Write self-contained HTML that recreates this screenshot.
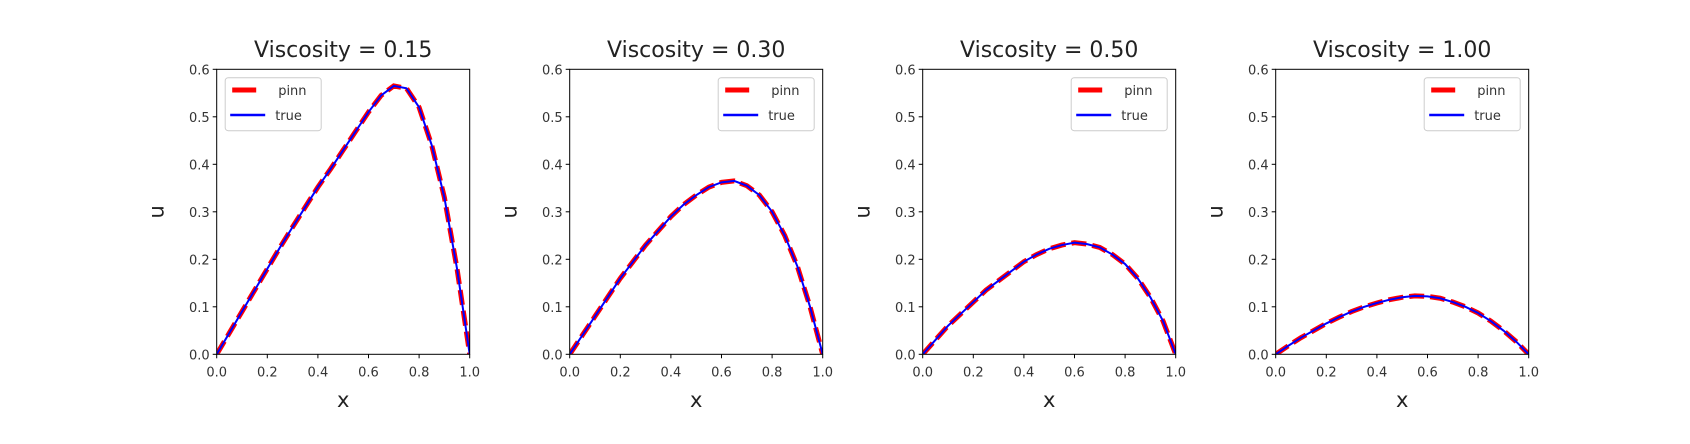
<!DOCTYPE html>
<html><head><meta charset="utf-8"><style>
body{margin:0;background:#fff;}
svg{display:block;font-family:"DejaVu Sans","Liberation Sans",sans-serif;}
</style></head><body>
<svg id="fig" width="1690" height="444" viewBox="0 0 1690 444"></svg>
<script>
const xs = [0,0.05,0.1,0.15,0.2,0.25,0.3,0.35,0.4,0.45,0.5,0.55,0.6,0.65,0.7,0.75,0.8,0.85,0.9,0.95,1];
const titles = ["Viscosity = 0.15","Viscosity = 0.30","Viscosity = 0.50","Viscosity = 1.00"];
const trueV1 = [0,.045,.09,.135,.18,.225,.268,.31,.352,.39,.43,.47,.51,.545,.565,.56,.52,.44,.33,.18,0];
const trueV2 = [0,.04,.08,.12,.16,.195,.23,.26,.29,.315,.335,.352,.362,.365,.355,.335,.3,.25,.185,.1,0];
const trueV3 = [0,.03,.06,.085,.11,.135,.155,.175,.195,.21,.222,.23,.235,.232,.225,.21,.19,.16,.12,.07,0];
const trueV4 = [0,.018,.035,.05,.065,.078,.09,.1,.108,.115,.12,.123,.122,.118,.11,.1,.087,.07,.05,.027,0];
const pinnV1 = trueV1.slice(), pinnV2 = trueV2.slice(), pinnV3 = trueV3.slice(), pinnV4 = trueV4.slice();
const xTicks = [0,0.2,0.4,0.6,0.8,1.0];
const xTickLabels = ["0.0","0.2","0.4","0.6","0.8","1.0"];
const yTicks = [0,0.1,0.2,0.3,0.4,0.5,0.6];
const yTickLabels = ["0.0","0.1","0.2","0.3","0.4","0.5","0.6"];
const trueSeries=[trueV1,trueV2,trueV3,trueV4], pinnSeries=[pinnV1,pinnV2,pinnV3,pinnV4];
const NS="http://www.w3.org/2000/svg", svg=document.getElementById('fig');
function mk(t,a,p){const e=document.createElementNS(NS,t);for(const k in a)e.setAttribute(k,a[k]);(p||svg).appendChild(e);return e;}
const W=253,H=285,TOP=69.3;
for(let i=0;i<4;i++){
  const L=216.7+353*i;
  const g=mk('g',{});
  
  
  const sx=v=>L+v*W, sy=v=>TOP+H-(v/0.6)*H;
  const cp=mk('clipPath',{id:'c'+i},g);mk('rect',{x:L,y:TOP,width:W,height:H},cp);
  const pts=(a)=>xs.map((x,j)=>sx(x).toFixed(2)+','+sy(a[j]).toFixed(2)).join(' ');
  const pl=mk('polyline',{points:pts(pinnSeries[i]),fill:'none',stroke:'#ff0000','stroke-width':5,'stroke-dasharray':'15 6','clip-path':'url(#c'+i+')'},g);
  
  
  const tl=mk('polyline',{points:pts(trueSeries[i]),fill:'none',stroke:'#0000ff','stroke-width':2,'clip-path':'url(#c'+i+')'},g);
  
  
  mk('rect',{x:L,y:TOP,width:W,height:H,fill:'none',stroke:'#000','stroke-width':1},g);
  xTicks.forEach((v,j)=>{mk('line',{x1:sx(v),x2:sx(v),y1:TOP+H,y2:TOP+H+4,stroke:'#000'},g);
    const t=mk('text',{x:sx(v),y:TOP+H+22,'text-anchor':'middle','font-size':13,fill:'#333'},g);t.textContent=xTickLabels[j];
    
    });
  yTicks.forEach((v,j)=>{mk('line',{x1:L-4,x2:L,y1:sy(v),y2:sy(v),stroke:'#000'},g);
    const t=mk('text',{x:L-7,y:sy(v)+5,'text-anchor':'end','font-size':13,fill:'#333'},g);t.textContent=yTickLabels[j];
    
    });
  const tt=mk('text',{x:L+W/2,y:57,'text-anchor':'middle','font-size':22,fill:'#222'},g);tt.textContent=titles[i];
  
  
  const xl=mk('text',{x:L+W/2,y:407,'text-anchor':'middle','font-size':21,fill:'#222'},g);xl.textContent='x';
  
  
  const yl=mk('text',{x:0,y:0,'text-anchor':'middle','font-size':21,fill:'#222',transform:'translate('+(L-53)+','+(TOP+H/2)+') rotate(-90)'},g);yl.textContent='u';
  
  
  const lx=i===0?L+8.5:L+W-104.5;
  const lg=mk('g',{},g);
  
  
  mk('rect',{x:lx,y:77.7,width:96,height:53,rx:3,fill:'#fff',stroke:'#ccc'},lg);
  mk('line',{x1:lx+7,x2:lx+31,y1:90,y2:90,stroke:'#ff0000','stroke-width':5},lg);
  mk('line',{x1:lx+5,x2:lx+40,y1:115,y2:115,stroke:'#0000ff','stroke-width':2.5},lg);
  const a=mk('text',{x:lx+53,y:95,'font-size':13,fill:'#333'},lg);a.textContent='pinn';
  
  
  const b=mk('text',{x:lx+50,y:120,'font-size':13,fill:'#333'},lg);b.textContent='true';
  
  
}
</script>
</body></html>
